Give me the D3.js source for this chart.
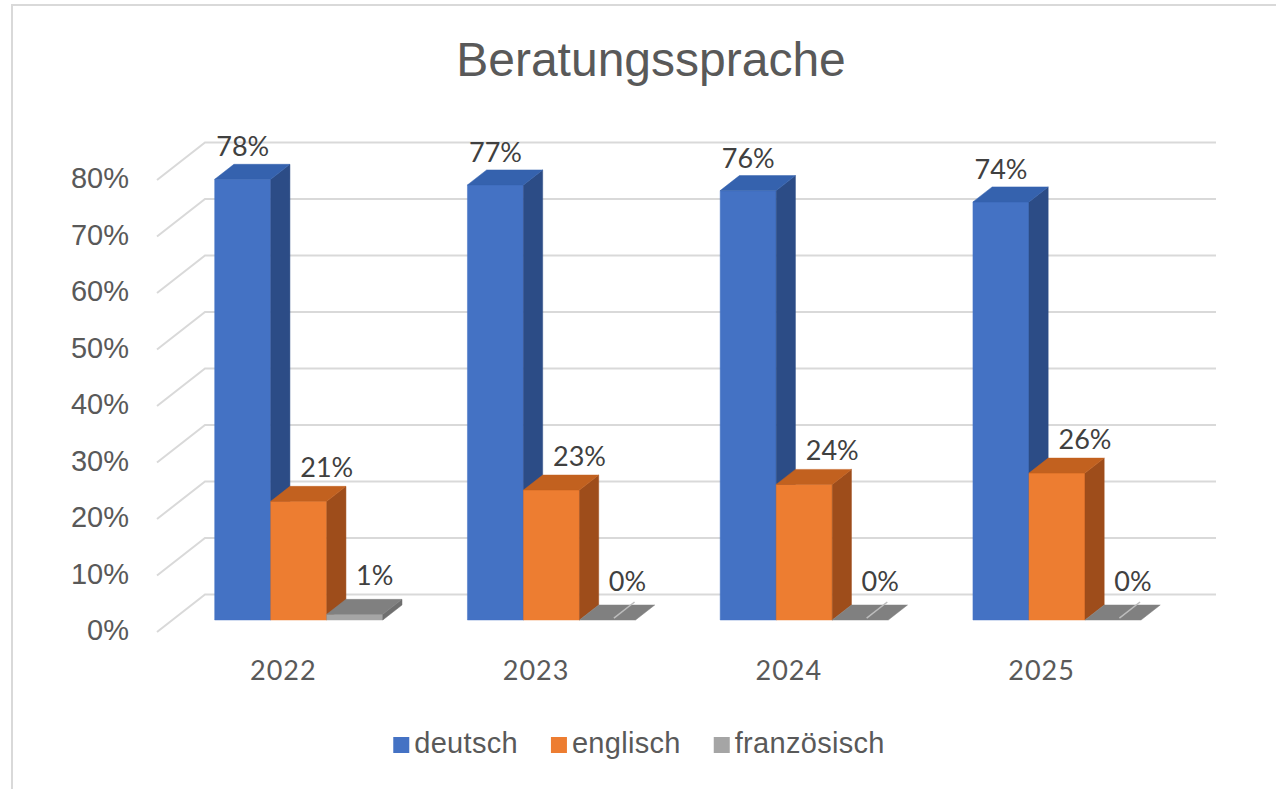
<!DOCTYPE html>
<html>
<head>
<meta charset="utf-8">
<script src="https://cdn.jsdelivr.net/npm/d3@7"></script>
<style>
  html, body { margin: 0; padding: 0; background: #fff; }
  svg { display: block; }
</style>
</head>
<body>
<svg id="chart" width="1276" height="789"></svg>
<script>
// ---- data ----
const title = "Beratungssprache";
const years = ["2022", "2023", "2024", "2025"];
const seriesNames = ["deutsch", "englisch", "französisch"];
const deutsch = [0.78, 0.77, 0.76, 0.74];
const englisch = [0.21, 0.23, 0.24, 0.26];
const franzoesisch = [0.01, 0.00, 0.00, 0.00];
const yTicks = [0, 0.1, 0.2, 0.3, 0.4, 0.5, 0.6, 0.7, 0.8];

const seriesValues = [deutsch, englisch, franzoesisch];

// ---- styles ----
const faceColors = [
  { front: "#4472c4", side: "#2c4c86", top: "#3562ae" },
  { front: "#ed7d31", side: "#9e4d1b", top: "#c2611f" },
  { front: "#a5a5a5", side: "#6f6f6f", top: "#808080" }
];
const legendColors = ["#4472c4", "#ed7d31", "#a5a5a5"];
const labelDx = [0, 28, 20];
const labelDy = [23, 24, 29];

const svg = d3.select("#chart");
const W = 1276, H = 789;

// frame
svg.append("rect")
  .attr("x", 12).attr("y", 5)
  .attr("width", W + 20).attr("height", H + 20)
  .attr("fill", "#fff").attr("stroke", "#d9d9d9").attr("stroke-width", 2);

// title
svg.append("text")
  .attr("x", 651).attr("y", 76)
  .attr("text-anchor", "middle")
  .attr("font-family", "'Liberation Sans', Arial, sans-serif")
  .attr("font-size", 48)
  .attr("fill", "#595959")
  .text(title);

// ---- scales (front plane) ----
const depth = { dx: 48, dy: -37.5 };
const f1 = 0.32, f2 = 0.72; // bar front/back depth fractions
const x0 = 157, x1 = 1168;
const pad = 0.335;
const x = d3.scaleBand().domain(years).range([x0, x1]).paddingInner(pad).paddingOuter(pad / 2);
const xs = d3.scaleBand().domain(seriesNames).range([0, x.bandwidth()]);
const y = d3.scaleLinear().domain([0, 0.8]).range([632, 180]);

function P(px, v, d) {
  return [px + d * depth.dx, y(v) + d * depth.dy];
}
const line = d3.line();

// ---- gridlines ----
const grid = svg.append("g");
yTicks.forEach(t => {
  const a = P(x0, t, 0), b = P(x0, t, 1), c = P(x1, t, 1);
  grid.append("path")
    .attr("d", line([a, b, c]))
    .attr("fill", "none")
    .attr("stroke", "#d9d9d9")
    .attr("stroke-width", 2);
});

// y axis labels
const fmt = d3.format(".0%");
svg.append("g").selectAll("text").data(yTicks).join("text")
  .attr("x", 129)
  .attr("y", d => y(d) - 2)
  .attr("dy", "0.36em")
  .attr("text-anchor", "end")
  .attr("font-family", "'Liberation Sans', Arial, sans-serif")
  .attr("font-size", 29)
  .attr("fill", "#595959")
  .text(d => fmt(d));

// ---- bars ----
const bars = svg.append("g");
const labels = svg.append("g");
years.forEach((yr, i) => {
  seriesNames.forEach((s, k) => {
    const v = seriesValues[k][i];
    const bx0 = x(yr) + xs(s);
    const bx1 = bx0 + xs.bandwidth();
    const c = faceColors[k];
    const front = [P(bx0, 0, f1), P(bx1, 0, f1), P(bx1, v, f1), P(bx0, v, f1)];
    const side = [P(bx1, 0, f1), P(bx1, 0, f2), P(bx1, v, f2), P(bx1, v, f1)];
    const top = [P(bx0, v, f1), P(bx1, v, f1), P(bx1, v, f2), P(bx0, v, f2)];
    const g = bars.append("g");
    if (v > 0) {
      g.append("path").attr("d", line(front) + "Z").attr("fill", c.front)
        .attr("stroke", c.front).attr("stroke-width", 0.5);
      g.append("path").attr("d", line(side) + "Z").attr("fill", c.side)
        .attr("stroke", c.side).attr("stroke-width", 0.5);
    }
    g.append("path").attr("d", line(top) + "Z").attr("fill", c.top)
      .attr("stroke", c.top).attr("stroke-width", 0.5);
    if (v === 0) {
      const m = (bx0 + bx1) / 2 + 4;
      g.append("path")
        .attr("d", line([P(m, 0, f1 + 0.05), P(m, 0, f2 + 0.08)]))
        .attr("stroke", "#bdbdbd").attr("stroke-width", 1.5).attr("fill", "none");
    }
    const tf = P((bx0 + bx1) / 2, v, f1);
    labels.append("text")
      .attr("x", tf[0] + labelDx[k])
      .attr("y", tf[1] - labelDy[k])
      .attr("text-anchor", "middle")
      .attr("font-family", "Lato, 'Open Sans', sans-serif")
      .attr("font-size", 27)
      .attr("fill", "#404040")
      .text(fmt(v));
  });
});

// category labels
svg.append("g").selectAll("text").data(years).join("text")
  .attr("x", d => x(d) + x.bandwidth() / 2)
  .attr("y", 680)
  .attr("text-anchor", "middle")
  .attr("font-family", "Lato, 'Open Sans', sans-serif")
  .attr("font-size", 27)
  .attr("letter-spacing", 1)
  .attr("fill", "#595959")
  .text(d => d);

// ---- legend ----
const legend = svg.append("g");
let cx = 0;
seriesNames.forEach((s, k) => {
  const it = legend.append("g");
  it.append("rect").attr("x", 0).attr("y", -16).attr("width", 16).attr("height", 16)
    .attr("fill", legendColors[k]);
  const t = it.append("text").attr("x", 21).attr("y", 0)
    .attr("font-family", "'Liberation Sans', Arial, sans-serif")
    .attr("font-size", 29)
    .attr("letter-spacing", 0.3)
    .attr("fill", "#595959")
    .text(s);
  const w = 21 + t.node().getComputedTextLength();
  it.attr("transform", `translate(${cx},0)`);
  cx += w + 33;
});
const totalW = cx - 33;
legend.attr("transform", `translate(${639 - totalW / 2},753)`);
</script>
</body>
</html>
